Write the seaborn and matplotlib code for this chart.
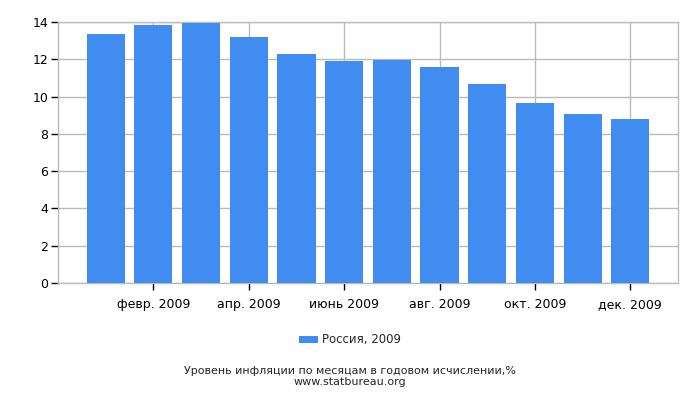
import pandas as pd
import matplotlib
matplotlib.use('Agg')
import matplotlib.pyplot as plt
import seaborn as sns

# Данные: инфляция в России по месяцам 2009, % в годовом исчислении
months = ['янв. 2009', 'февр. 2009', 'март 2009', 'апр. 2009', 'май 2009', 'июнь 2009',
          'июль 2009', 'авг. 2009', 'сент. 2009', 'окт. 2009', 'нояб. 2009', 'дек. 2009']
values = [13.35, 13.85, 13.96, 13.18, 12.31, 11.89, 11.98, 11.59, 10.70, 9.68, 9.07, 8.80]
series_name = 'Россия, 2009'
y_ticks = [0, 2, 4, 6, 8, 10, 12, 14]

df = pd.DataFrame({'Месяц': months, 'Значение': values})

sns.set_style('white')
plt.rcParams['font.family'] = ['DejaVu Sans']

fig = plt.figure(figsize=(7, 4), dpi=100)
ax = fig.add_axes([58 / 700, 117 / 400, 620 / 700, 261 / 400])

sns.barplot(data=df, x='Месяц', y='Значение', color='#418cf0', saturation=1,
            width=0.8, ax=ax, label=series_name, zorder=3,
            edgecolor='none', linewidth=0)

ax.set_xlim(-1, 12)
ax.set_ylim(0, 14)
ax.set_yticks(y_ticks)
tick_pos = [1, 3, 5, 7, 9, 11]
ax.set_xticks(tick_pos)
ax.set_xticklabels([months[i] for i in tick_pos])
ax.set_xlabel('')
ax.set_ylabel('')

ax.grid(True, color='#bbbbbb', linewidth=1, zorder=0)
ax.set_axisbelow(True)
for side in ['top', 'right', 'left', 'bottom']:
    ax.spines[side].set_color('#bbbbbb')
    ax.spines[side].set_linewidth(1)
ax.tick_params(axis='both', which='both', direction='out', length=5, width=1,
               color='black', labelsize=9, labelcolor='black', pad=2,
               bottom=True, left=True)
ax.tick_params(axis='x', pad=6)

handles, labels = ax.get_legend_handles_labels()
fig.legend(handles, labels, loc='center', bbox_to_anchor=(0.5, 1 - 340 / 400),
           frameon=False, fontsize=8.5, handlelength=1.6, handleheight=0.5,
           handletextpad=0.3)
if ax.get_legend():
    ax.get_legend().remove()

fig.text(0.5, 1 - 371 / 400, 'Уровень инфляции по месяцам в годовом исчислении,%',
         ha='center', va='center', fontsize=8)
fig.text(0.5, 1 - 382 / 400, 'www.statbureau.org', ha='center', va='center', fontsize=8)

fig.savefig('out.png', dpi=100)
